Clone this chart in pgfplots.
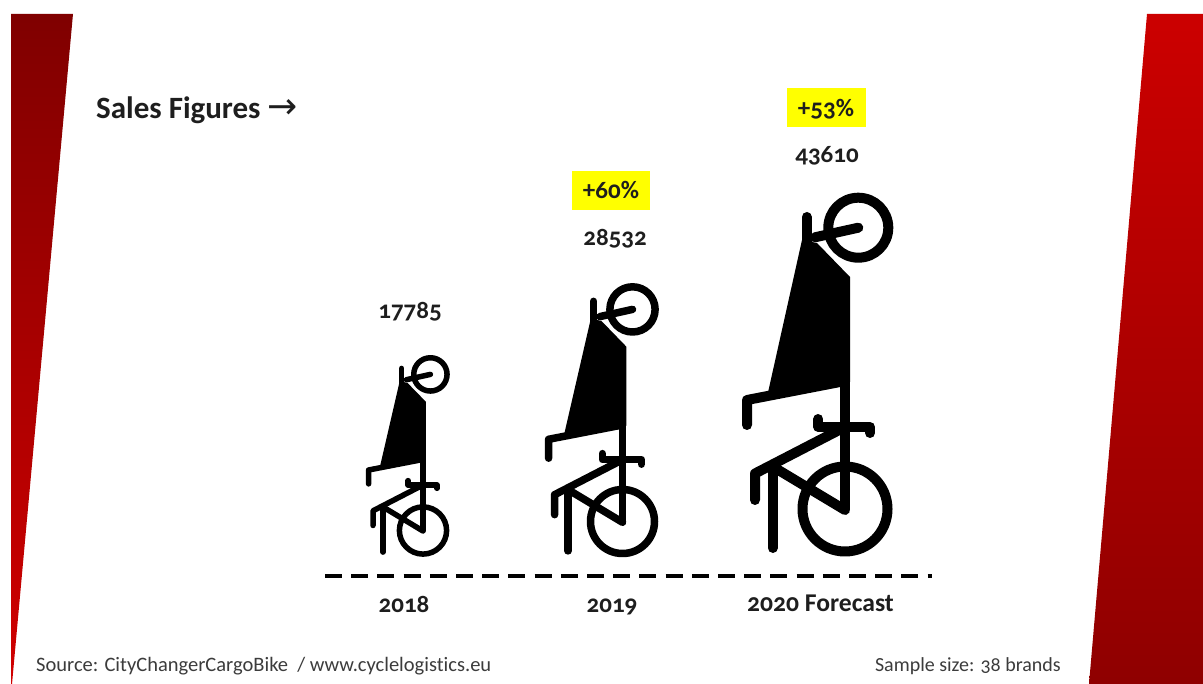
\documentclass[border=0pt]{standalone}
\usepackage{pgfplots}
\pgfplotsset{compat=1.18}
\usepackage{fontspec}
\setmainfont[Numbers=OldStyle, Ligatures={NoCommon}]{Carlito}
\newfontfamily\arrowfont{DejaVu Sans}
\definecolor{ink}{HTML}{1E1E1E}
\definecolor{srcink}{HTML}{3C3C3C}
\definecolor{hl}{RGB}{255,255,0}
\newcommand{\fs}[1]{\fontsize{#1}{#1}\selectfont}
\tikzset{
  lab/.style={font=\fs{25}\bfseries, text=ink, inner sep=0pt, anchor=center},
  src/.style={font=\fs{20.5}, text=srcink, inner sep=0pt},
}
\begin{document}
\begin{tikzpicture}
\begin{axis}[
  scale only axis, width=1203pt, height=684pt,
  xmin=0, xmax=1203, ymin=0, ymax=684, y dir=reverse,
  axis lines=none, ticks=none, clip=true,
  every axis plot/.append style={forget plot, line cap=round, line join=round},
]
% page background, keeps the page the full size
\addplot[fill=white, draw=white, line width=0pt] coordinates {(0,0)(1203,0)(1203,684)(0,684)} --cycle;
% side bands
\addplot[draw=none, top color=red!50!black, bottom color=red!82!black] coordinates {(11,14)(73,14)(12,684)(11,684)} --cycle;
\addplot[draw=none, top color=red!80!black, bottom color=red!56!black] coordinates {(1147,14)(1203,14)(1203,684)(1089,684)} --cycle;

% yellow highlights
\addplot[draw=none, fill=hl] coordinates {(571.5,171.5)(650,171.5)(650,210.5)(571.5,210.5)} --cycle;
\addplot[draw=none, fill=hl] coordinates {(787,88)(866,88)(866,127.5)(787,127.5)} --cycle;

% baseline
\addplot[black, line cap=butt, line width=4.5pt, dash pattern=on 17pt off 9.2pt] coordinates {(325,576)(932,576)};

% ---- 2018 bike
\addplot[fill=black, draw=none] coordinates {(399.7,381.2)(407.5,382.9)(425.8,401.7)(425.8,460)(379.6,468.2)} --cycle;
\addplot[black, line width=5.5pt] coordinates {(368.6,483.9)(368.6,470)(420.2,460)};
\addplot[black, line width=5.5pt] coordinates {(423,458.9)(423,530.5)};
\addplot[black, line width=5.5pt] coordinates {(401.7,368.4)(401.7,384)};
\addplot[black, line width=5.5pt] coordinates {(430.4,374.4)(406.4,379.7)};
\addplot[black, line width=5.5pt] coordinates {(408.2,480.6)(408.2,485)(436.9,485)(436.9,488.3)};
\addplot[black, line width=5.5pt] coordinates {(423,485)(373,510.8)(373,525.5)};
\addplot[black, line width=5.5pt] coordinates {(384.2,507.7)(423,531)};
\addplot[black, line width=5.5pt] coordinates {(382.9,509.4)(382.9,552.1)};
\addplot[only marks, mark=o, mark size=16.65pt, mark options={draw=black, line width=5.5pt}] coordinates {(430.4,374.4)};
\addplot[only marks, mark=o, mark size=23.6pt, mark options={draw=black, line width=5.5pt}] coordinates {(423,530.5)};

% ---- 2019 bike
\addplot[fill=black, draw=none] coordinates {(590.8,318.7)(601.4,320.9)(626.3,346.6)(626.3,425.7)(563.6,436.8)} --cycle;
\addplot[black, line width=7.5pt] coordinates {(548.6,458.2)(548.6,439.3)(618.7,425.7)};
\addplot[black, line width=7.5pt] coordinates {(622.5,424.2)(622.5,521.5)};
\addplot[black, line width=7.5pt] coordinates {(593.6,301.3)(593.6,322.4)};
\addplot[black, line width=7.5pt] coordinates {(632.5,309.4)(599.9,316.6)};
\addplot[black, line width=7.5pt] coordinates {(602.4,453.6)(602.4,459.7)(641.4,459.7)(641.4,464.2)};
\addplot[black, line width=7.5pt] coordinates {(622.5,459.7)(554.6,494.7)(554.6,514.7)};
\addplot[black, line width=7.5pt] coordinates {(569.7,490.6)(622.5,522.3)};
\addplot[black, line width=7.5pt] coordinates {(568,492.8)(568,550.9)};
\addplot[only marks, mark=o, mark size=22.6pt, mark options={draw=black, line width=7.5pt}] coordinates {(632.5,309.4)};
\addplot[only marks, mark=o, mark size=32pt, mark options={draw=black, line width=7.5pt}] coordinates {(622.5,521.5)};

% ---- 2020 bike
\addplot[fill=black, draw=none] coordinates {(802,240)(817,243)(850,277)(850,382)(767,397)} --cycle;
\addplot[black, line width=10pt] coordinates {(747,425)(747,400)(840,382)};
\addplot[black, line width=10pt] coordinates {(845,380)(845,509)};
\addplot[black, line width=10pt] coordinates {(806.7,217)(806.7,245)};
\addplot[black, line width=10pt] coordinates {(858.3,227.7)(815,237.3)};
\addplot[black, line width=10pt] coordinates {(818.3,419)(818.3,427)(870,427)(870,433)};
\addplot[black, line width=10pt] coordinates {(845,427)(755,473.5)(755,500)};
\addplot[black, line width=10pt] coordinates {(775,468)(845,510)};
\addplot[black, line width=10pt] coordinates {(772.7,471)(772.7,548)};
\addplot[only marks, mark=o, mark size=30pt, mark options={draw=black, line width=10pt}] coordinates {(858.3,227.7)};
\addplot[only marks, mark=o, mark size=42.5pt, mark options={draw=black, line width=10pt}] coordinates {(845,509)};

% texts
\node[font=\fs{31}\bfseries, text=ink, inner sep=0pt, anchor=west] at (axis cs:96,110) {Sales Figures\hspace{7pt}{\arrowfont\mdseries\fs{36}→}};
\node[lab] at (axis cs:410,311.5) {17785};
\node[lab] at (axis cs:615,238.5) {28532};
\node[lab] at (axis cs:827,155.5) {43610};
\node[lab] at (axis cs:611,190) {+60\%};
\node[lab] at (axis cs:826,109) {+53\%};
\node[lab] at (axis cs:404,604) {2018};
\node[lab] at (axis cs:612,606.5) {2019};
\node[lab, font=\fs{25.6}\bfseries] at (axis cs:820.5,603.5) {2020 Forecast};
\node[src, anchor=west] at (axis cs:36,666.5) {Source: CityChangerCargoBike\ \ / www.cyclelogistics.eu};
\node[src, font=\fs{20}, anchor=east] at (axis cs:1061,666.5) {Sample size: 38 brands};
\end{axis}
\end{tikzpicture}
\end{document}
